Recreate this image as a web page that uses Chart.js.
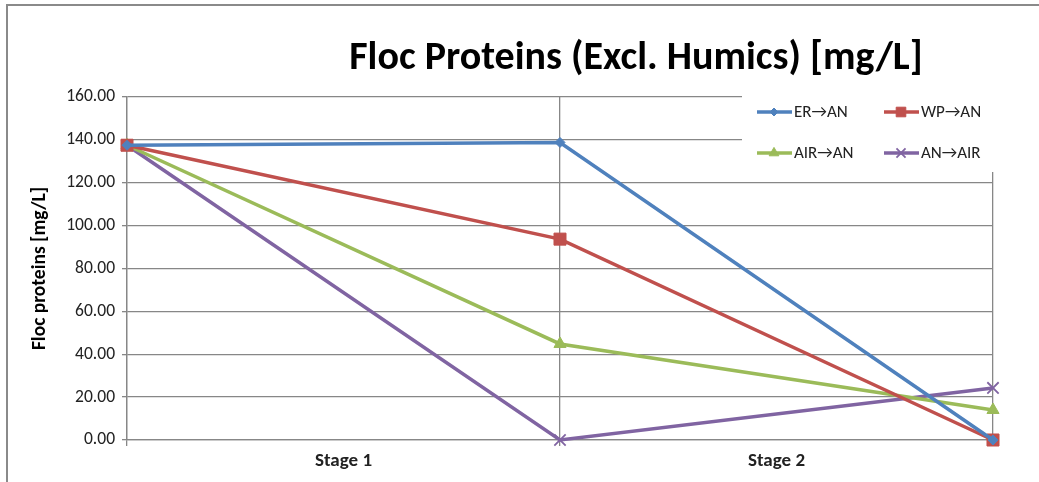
<!DOCTYPE html>
<html>
<head>
<meta charset="utf-8">
<script src="https://cdn.jsdelivr.net/npm/chart.js@4/dist/chart.umd.min.js"></script>
<style>
  body { margin: 0; background: #fff; }
  #wrap { width: 1039px; height: 482px; }
</style>
</head>
<body>
<div id="wrap"><canvas id="myChart" width="1039" height="482"></canvas></div>
<script>
// data
const categories = ['Stage 1', 'Stage 2'];
const seriesNames = ['ER\u2192AN', 'WP\u2192AN', 'AIR\u2192AN', 'AN\u2192AIR'];
const erAn = [137.5, 138.8, 0];
const wpAn = [137.5, 93.7, 0];
const airAn = [137.5, 44.8, 14.0];
const anAir = [137.5, 0, 24.3];
const yTicks = [0, 20, 40, 60, 80, 100, 120, 140, 160];

const FONT = "Carlito, Lato, 'DejaVu Sans', sans-serif";
const GRID = '#878787';

function toPoints(arr) {
    return arr.map(function (v, i) { return { x: i, y: v }; });
}

const colors = ['#4F81BD', '#C0504D', '#9BBB59', '#8064A2'];
const styles = ['rectRot', 'rect', 'triangle', 'crossRot'];
const radii = [5, 8.5, 7, 8];
const values = [erAn, wpAn, airAn, anAir];

const datasets = values.map(function (arr, i) {
    return {
        label: seriesNames[i],
        data: toPoints(arr),
        borderColor: colors[i],
        backgroundColor: colors[i],
        borderWidth: 3.5,
        pointStyle: styles[i],
        pointRadius: radii[i],
        pointBorderWidth: i === 3 ? 1.8 : 1,
        pointBorderColor: colors[i],
        pointBackgroundColor: colors[i],
        tension: 0,
        clip: false
    };
});

// frame, title and the boxed legend drawn by hand
const extras = {
    id: 'extras',
    beforeDraw: function (chart) {
        const c = chart.ctx;
        c.save();
        c.strokeStyle = '#8a8a8a';
        c.lineWidth = 2;
        c.beginPath();
        c.moveTo(7, 482);
        c.lineTo(7, 5);
        c.lineTo(1039, 5);
        c.stroke();
        c.restore();
    },
    afterDraw: function (chart) {
        const c = chart.ctx;
        c.save();
        c.fillStyle = '#000';
        c.font = 'bold 40px ' + FONT;
        c.textAlign = 'center';
        c.textBaseline = 'middle';
        c.fillText('Floc Proteins (Excl. Humics) [mg/L]', 636, 59);

        // legend box
        c.fillStyle = '#fff';
        c.fillRect(742, 96, 297, 76);
        const pos = [[757, 112], [884, 112], [757, 153], [884, 153]];
        c.font = '17px ' + FONT;
        c.textAlign = 'left';
        chart.data.datasets.forEach(function (ds, i) {
            const x = pos[i][0], y = pos[i][1];
            c.strokeStyle = ds.borderColor;
            c.lineWidth = 3.5;
            c.beginPath();
            c.moveTo(x, y);
            c.lineTo(x + 35, y);
            c.stroke();
            if (Chart.helpers && Chart.helpers.drawPoint) {
                c.fillStyle = ds.backgroundColor;
                c.strokeStyle = ds.borderColor;
                c.lineWidth = ds.pointBorderWidth;
                Chart.helpers.drawPoint(c, {
                    pointStyle: ds.pointStyle,
                    radius: ds.pointRadius * 0.8,
                    rotation: 0,
                    borderWidth: ds.pointBorderWidth
                }, x + 17, y);
            }
            c.fillStyle = '#222';
            c.fillText(ds.label, x + 37, y + 1);
        });
        c.restore();
    }
};

const ctx = document.getElementById('myChart').getContext('2d');
const myChart = new Chart(ctx, {
    type: 'line',
    data: { datasets: datasets },
    options: {
        responsive: false,
        animation: false,
        layout: { padding: { left: 28, right: 46, top: 97, bottom: 0 } },
        plugins: {
            legend: { display: false },
            title: { display: false },
            tooltip: { enabled: false }
        },
        scales: {
            x: {
                type: 'linear',
                min: 0,
                max: 2,
                afterBuildTicks: function (s) {
                    s.ticks = [0, 0.5, 1, 1.5, 2].map(function (v) { return { value: v }; });
                },
                afterFit: function (s) { s.height = 42; },
                ticks: {
                    autoSkip: false,
                    maxRotation: 0,
                    padding: 4,
                    color: '#222',
                    font: { family: FONT, size: 19, weight: 'bold' },
                    callback: function (v) {
                        return v % 1 ? categories[Math.floor(v)] : '';
                    }
                },
                grid: {
                    color: function (c) {
                        return c.tick && c.tick.value % 1 === 0 ? GRID : 'rgba(0,0,0,0)';
                    },
                    lineWidth: 1.3,
                    tickLength: 6
                },
                border: { display: true, color: GRID, width: 1.3 }
            },
            y: {
                min: 0,
                max: 160,
                afterBuildTicks: function (s) {
                    s.ticks = yTicks.map(function (v) { return { value: v }; });
                },
                afterFit: function (s) { s.width = 127 - 28; },
                ticks: {
                    padding: 7,
                    color: '#222',
                    font: { family: FONT, size: 17.5 },
                    callback: function (v) { return v.toFixed(2); }
                },
                grid: { color: GRID, lineWidth: 1.3, tickLength: 5 },
                border: { display: true, color: GRID, width: 1.3 },
                title: {
                    display: true,
                    text: 'Floc proteins [mg/L]',
                    color: '#000',
                    padding: 0,
                    font: { family: FONT, size: 19.5, weight: 'bold' }
                }
            }
        }
    },
    plugins: [extras]
});
</script>
</body>
</html>
